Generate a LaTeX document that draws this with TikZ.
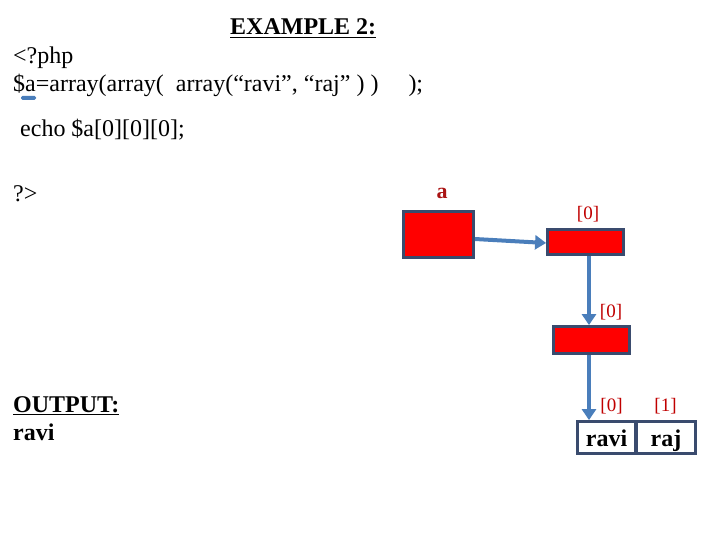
\documentclass[tikz,border=0pt]{standalone}
\usepackage{fontspec}
\setmainfont{Liberation Serif}
\usetikzlibrary{arrows.meta}
\definecolor{boxline}{RGB}{58,75,110}
\definecolor{arrblue}{RGB}{74,126,187}
\definecolor{labred}{RGB}{192,0,0}
\definecolor{dred}{RGB}{170,20,20}
\tikzset{
  codetxt/.style={anchor=base west,inner sep=0pt,font=\fontsize{24}{28}\selectfont},
  redbox/.style={draw=boxline,line width=2.8pt,fill=red,inner sep=0pt},
  valbox/.style={draw=boxline,line width=2.8pt,fill=white,inner sep=0pt,text height=19pt,text depth=1pt,font=\bfseries\fontsize{24}{28}\selectfont},
  idx/.style={text=labred,inner sep=0pt,font=\fontsize{19}{22}\selectfont},
  arr/.style={draw=arrblue,line width=4pt,-{Triangle[length=11pt,width=14pt]}}
}
\begin{document}
\begin{tikzpicture}[x=1pt,y=-1pt]
\useasboundingbox (0,0) rectangle (720,540);
% code text
\node[codetxt,font=\bfseries\fontsize{24}{28}\selectfont] (title) at (230,35) {\underline{EXAMPLE 2:}};
\node[codetxt] (php) at (13,64) {<?php};
\node[codetxt] (arrline) at (13,92) {\$a=array(array(\ \ array(“ravi”, “raj” ) )\ \ \ \ \ );};
\fill[arrblue,rounded corners=1.5pt] (21,96) rectangle (36,100);
\node[codetxt] (echo) at (14,137) {\ echo \$a[0][0][0];};
\node[codetxt] (close) at (13,202) {?>};
\node[codetxt,font=\bfseries\fontsize{24}{28}\selectfont] (out) at (13,412) {\underline{OUTPUT:}};
\node[codetxt,font=\bfseries\fontsize{24}{28}\selectfont] (res) at (13,440) {ravi};
% diagram
\node[text=dred,inner sep=0pt,font=\bfseries\fontsize{22}{24}\selectfont] (alab) at (442,193) {a};
\node[redbox,minimum width=70pt,minimum height=46pt] (a) at (438.5,234.5) {};
\node[redbox,minimum width=76pt,minimum height=25pt] (b) at (585.5,242) {};
\node[redbox,minimum width=76pt,minimum height=27pt] (c) at (591.5,340) {};
\node[valbox,minimum width=58pt,minimum height=32pt] (ravi) at (606.5,437.5) {ravi};
\node[valbox,minimum width=59pt,minimum height=32pt] (raj) at (666,437.5) {raj};
\node[idx] (l1) at (588,214) {[0]};
\node[idx] (l2) at (611,312) {[0]};
\node[idx] (l3) at (611.5,406) {[0]};
\node[idx] (l4) at (665.5,406) {[1]};
\draw[arr] ([yshift=-4.5pt]a.east) -- ([yshift=-1pt]b.west);
\draw[arr] ([xshift=3.5pt]b.south) -- ([xshift=-2.5pt]c.north);
\draw[arr] ([xshift=-2.5pt]c.south) -- ([xshift=-17.5pt]ravi.north);
\end{tikzpicture}
\end{document}
